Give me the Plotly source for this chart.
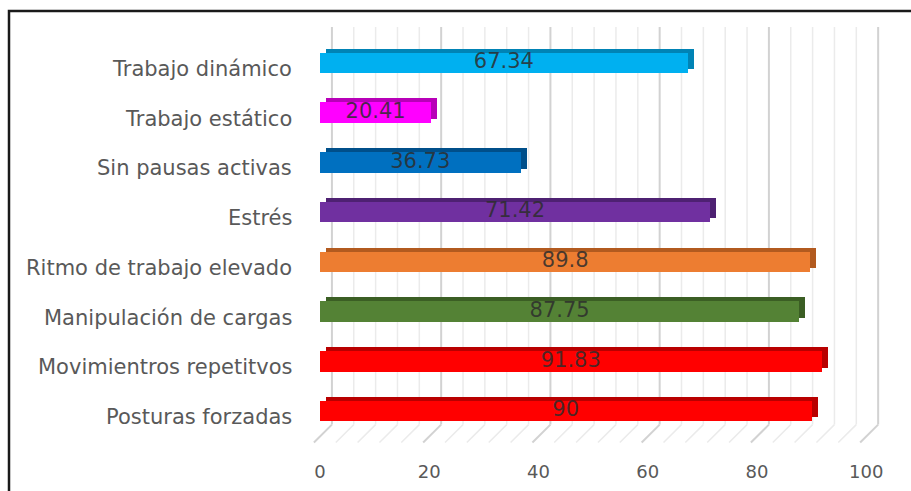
import plotly.graph_objects as go

# Categories listed bottom-to-top (Plotly draws the first category at the bottom)
categories = [
    "Posturas forzadas",
    "Movimientros repetitvos",
    "Manipulación de cargas",
    "Ritmo de trabajo elevado",
    "Estrés",
    "Sin pausas activas",
    "Trabajo estático",
    "Trabajo dinámico",
]
values = [90, 91.83, 87.75, 89.8, 71.42, 36.73, 20.41, 67.34]

face_colors = ["#FF0000", "#FF0000", "#548235", "#ED7D31",
               "#7030A0", "#0070C0", "#FF00FF", "#00B0F0"]
side_colors = ["#B80000", "#B80000", "#3B5E24", "#B25A1F",
               "#4E2172", "#004F8A", "#B800B8", "#0083B5"]

tick_values = [0, 20, 40, 60, 80, 100]
grid_step = 4
major_step = 20

W, H = 911, 491
L, R, T, B = 309, 23, 27, 44
X_RANGE = [-2, 104]
Y_RANGE = [-0.72, 7.72]
px_per_unit = (W - L - R) / (X_RANGE[1] - X_RANGE[0])
py_per_cat = (H - T - B) / (Y_RANGE[1] - Y_RANGE[0])

# 3-D look: depth offsets expressed in axis units
depth_x = 6 / px_per_unit
depth_y = 4 / py_per_cat
wall_shift = 12 / px_per_unit
floor_shift = 18 / px_per_unit
wall_bottom = -0.27
floor_front = -0.63
bar_w = 0.41

LABEL_FONT = "DejaVu Sans"
TEXT_GREY = "#595959"

fig = go.Figure()

# top and right faces (a darker copy pushed back and up)
fig.add_trace(go.Bar(
    y=categories, x=values, base=depth_x, orientation="h",
    width=bar_w, offset=-bar_w / 2 + depth_y,
    marker=dict(color=side_colors, line=dict(width=0)),
    hoverinfo="skip", showlegend=False,
))
# front faces
fig.add_trace(go.Bar(
    y=categories, x=values, orientation="h",
    width=bar_w, offset=-bar_w / 2,
    marker=dict(color=face_colors, line=dict(width=0)),
    showlegend=False,
))
# value labels centred on each bar
fig.add_trace(go.Scatter(
    y=categories, x=[v / 2 for v in values], mode="text",
    text=[f"{v:g}" for v in values],
    textfont=dict(family=LABEL_FONT, size=21, color="rgba(45,45,45,0.85)"),
    cliponaxis=False, hoverinfo="skip", showlegend=False,
))

# back-wall and floor gridlines
shapes = []
for v in range(0, 101, grid_step):
    major = v % major_step == 0
    col = "#D2D2D2" if major else "#EBEBEB"
    lw = 2 if major else 1.5
    bx = v + wall_shift
    shapes.append(dict(type="line", xref="x", yref="y", layer="below",
                       x0=bx, x1=bx, y0=wall_bottom, y1=Y_RANGE[1],
                       line=dict(color=col, width=lw)))
    shapes.append(dict(type="line", xref="x", yref="y", layer="below",
                       x0=bx, x1=bx - floor_shift, y0=wall_bottom, y1=floor_front,
                       line=dict(color=col, width=lw)))

# outer frame
shapes.append(dict(type="rect", xref="paper", yref="paper",
                   x0=(9 - L) / (W - L - R), x1=1.2,
                   y0=-0.3, y1=(H - B - 11) / (H - T - B),
                   line=dict(color="#1A1A1A", width=2.5)))

# category names, set slightly below each bar as on a receding floor
annotations = [
    dict(x=0, xref="paper", y=c, yref="y", text=c, showarrow=False,
         xanchor="right", yanchor="middle", xshift=294 - L, yshift=-6,
         font=dict(family=LABEL_FONT, size=21, color=TEXT_GREY))
    for c in categories
]

fig.update_layout(
    width=W, height=H,
    margin=dict(l=L, r=R, t=T, b=B, pad=0, autoexpand=False),
    paper_bgcolor="white", plot_bgcolor="white",
    barmode="overlay", bargap=0,
    shapes=shapes, annotations=annotations,
    font=dict(family=LABEL_FONT, color=TEXT_GREY),
    xaxis=dict(range=X_RANGE, tickvals=tick_values, showgrid=False,
               zeroline=False, showline=False, automargin=False,
               ticks="outside", ticklen=8, tickcolor="rgba(0,0,0,0)",
               tickfont=dict(family=LABEL_FONT, size=18, color=TEXT_GREY)),
    yaxis=dict(range=Y_RANGE, type="category", categoryorder="array",
               categoryarray=categories, showgrid=False, zeroline=False,
               showline=False, showticklabels=False, automargin=False),
)

fig.write_html("out.html")
